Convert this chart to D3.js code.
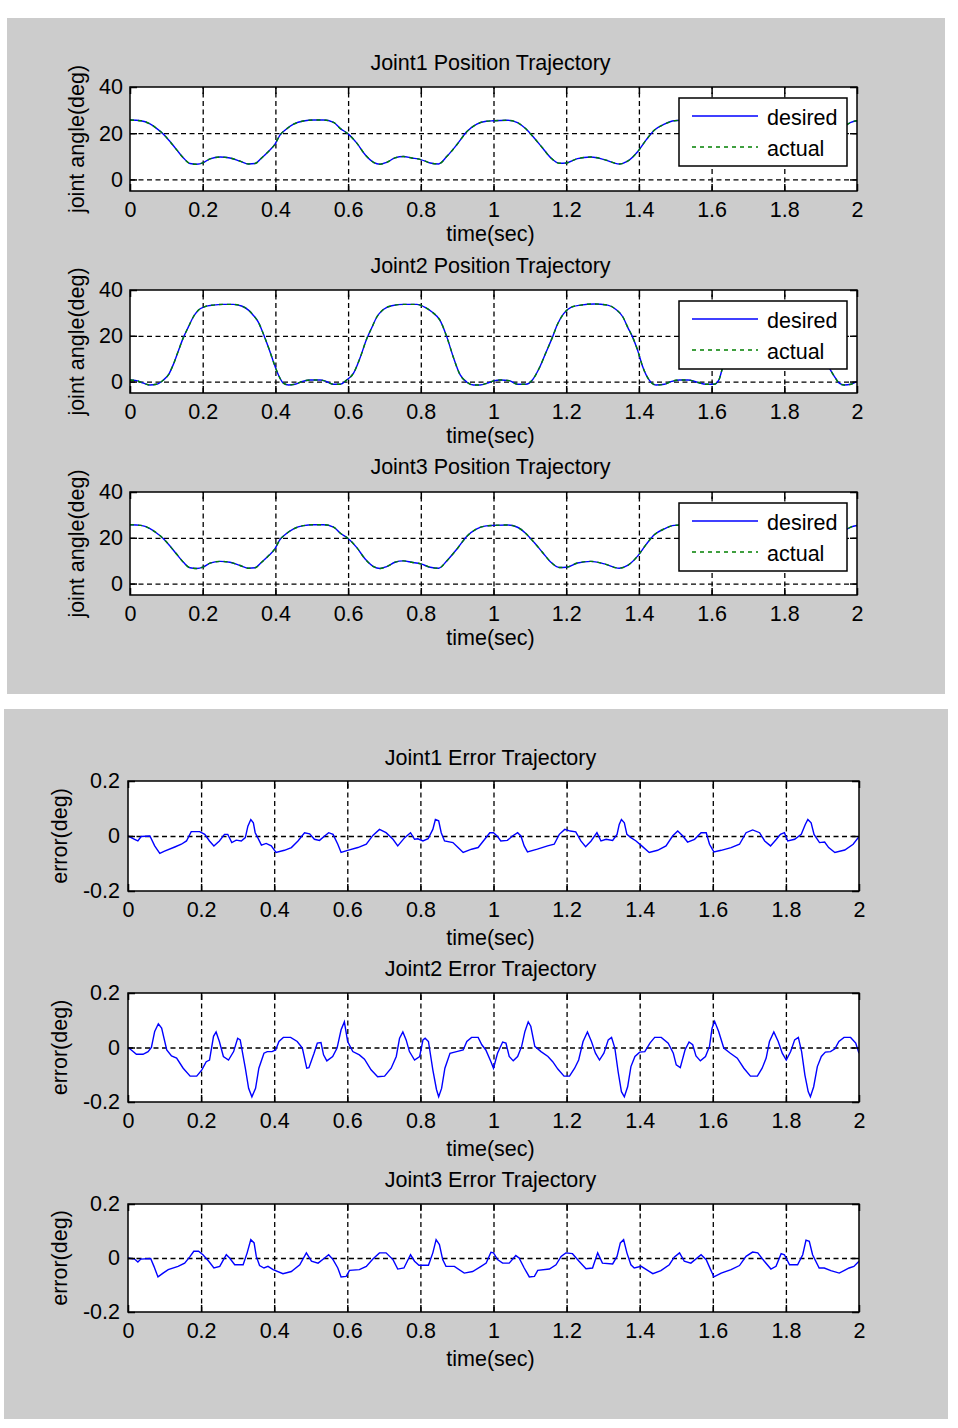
<!DOCTYPE html>
<html><head><meta charset="utf-8">
<script src="https://cdn.jsdelivr.net/npm/d3@7"></script>
<style>
body{margin:0;background:#fff}
svg{display:block}
text{font-family:"Liberation Sans",Arial,sans-serif;fill:#000}
</style></head>
<body>
<script>
// ---------------- DATA ----------------
const xTicks = [0,0.2,0.4,0.6,0.8,1,1.2,1.4,1.6,1.8,2];
const xTickLabels = ['0','0.2','0.4','0.6','0.8','1','1.2','1.4','1.6','1.8','2'];
const posYTicks = [0,20,40];
const posYTickLabels = ['0','20','40'];
const errYTicks = [-0.2,0,0.2];
const errYTickLabels = ['-0.2','0','0.2'];
const legendLabels = ['desired','actual'];

// [time(sec), angle(deg)]
const joint1Desired = [[0,25.7],[0.03,25.4],[0.055,24],[0.073,22.1],[0.092,19.6],[0.11,16.4],[0.128,12.9],[0.147,9.3],[0.165,6.9],[0.183,6.6],[0.202,7.3],[0.22,8.9],[0.248,9.7],[0.275,9.3],[0.303,7.9],[0.326,6.7],[0.344,6.9],[0.362,9.3],[0.381,12.1],[0.399,15.3],[0.413,19.3],[0.427,21.4],[0.45,23.9],[0.477,25.3],[0.505,25.7],[0.532,25.7],[0.56,24.7],[0.578,22.1],[0.601,19.6],[0.624,15.7],[0.647,10.7],[0.67,7.4],[0.688,6.6],[0.706,7.4],[0.729,9.3],[0.752,9.9],[0.775,9.3],[0.8,8.6],[0.826,7.1],[0.849,6.7],[0.872,10],[0.899,15],[0.927,20.7],[0.954,23.9],[0.98,25.2],[1.0,25.4],[1.039,25.6],[1.066,24.6],[1.089,21.9],[1.112,17.9],[1.135,13.6],[1.158,9.3],[1.181,7],[1.2,7.1],[1.231,9],[1.268,9.7],[1.305,8.6],[1.346,6.7],[1.369,7.9],[1.397,12.1],[1.42,17.1],[1.443,21.4],[1.47,23.9],[1.497,25.4],[1.53,25.7],[1.56,25.0],[1.59,22.5],[1.62,18.5],[1.65,13.0],[1.68,8.0],[1.7,6.7],[1.73,7.5],[1.76,9.7],[1.8,9.2],[1.83,7.5],[1.86,6.8],[1.88,8.5],[1.91,14.0],[1.94,20.0],[1.97,23.5],[1.983,24.7],[2.0,25.4]];
const joint1Actual = joint1Desired; // tracking error is ~0.05 deg, indistinguishable here

const joint2Desired = [[0,0.7],[0.018,0.4],[0.037,-0.7],[0.055,-1.5],[0.073,-1.2],[0.092,0.7],[0.106,3],[0.119,7.4],[0.133,13.4],[0.147,19.3],[0.161,24],[0.174,28.2],[0.188,31.2],[0.206,32.7],[0.229,33.4],[0.257,33.7],[0.284,33.7],[0.307,33],[0.326,31.2],[0.339,29],[0.353,26],[0.367,20.8],[0.381,14.9],[0.394,8.9],[0.408,3],[0.422,-0.7],[0.436,-1.5],[0.454,-1.2],[0.472,0],[0.495,0.7],[0.523,0.7],[0.541,0],[0.56,-1.2],[0.578,-1.2],[0.596,0.7],[0.615,3.7],[0.633,10.4],[0.651,18.6],[0.665,23.5],[0.679,28.2],[0.697,31.5],[0.72,33.1],[0.752,33.7],[0.789,33.7],[0.812,32.4],[0.83,30.5],[0.853,26.7],[0.872,19.3],[0.89,10.4],[0.908,3],[0.927,-0.3],[0.945,-1.5],[0.963,-1.5],[0.983,-0.7],[1.0,0.3],[1.02,0.7],[1.043,0.4],[1.066,-1.2],[1.089,-1.2],[1.107,0.7],[1.126,5.9],[1.144,12.6],[1.162,19.3],[1.176,25],[1.193,29.7],[1.213,32.4],[1.24,33.4],[1.277,33.9],[1.314,33.4],[1.337,31.5],[1.356,28.2],[1.369,23.8],[1.383,19.3],[1.397,13.4],[1.41,6.7],[1.428,0.7],[1.447,-1.5],[1.47,-1.2],[1.488,0],[1.511,0.7],[1.535,0.7],[1.56,-0.3],[1.585,-1.2],[1.607,-1.2],[1.62,0.7],[1.63,5.9],[1.645,12],[1.66,18],[1.675,24],[1.69,29],[1.71,32.3],[1.74,33.4],[1.78,33.8],[1.82,33.3],[1.845,31],[1.865,27],[1.885,21],[1.9,14],[1.912,9.5],[1.924,5.9],[1.938,2.2],[1.951,-0.7],[1.965,-1.5],[1.983,-1.2],[2.0,0]];
const joint2Actual = joint2Desired;

const joint3Desired = [[0,25.7],[0.03,25.4],[0.055,24],[0.073,22.1],[0.092,19.6],[0.11,16.4],[0.128,12.9],[0.147,9.3],[0.165,6.9],[0.183,6.6],[0.202,7.3],[0.22,8.9],[0.248,9.7],[0.275,9.3],[0.303,7.9],[0.326,6.7],[0.344,6.9],[0.362,9.3],[0.381,12.1],[0.399,15.3],[0.413,19.3],[0.427,21.4],[0.45,23.9],[0.477,25.3],[0.505,25.7],[0.532,25.7],[0.56,24.7],[0.578,22.1],[0.601,19.6],[0.624,15.7],[0.647,10.7],[0.67,7.4],[0.688,6.6],[0.706,7.4],[0.729,9.3],[0.752,9.9],[0.775,9.3],[0.8,8.6],[0.826,7.1],[0.849,6.7],[0.872,10],[0.899,15],[0.927,20.7],[0.954,23.9],[0.98,25.2],[1.0,25.4],[1.039,25.6],[1.066,24.6],[1.089,21.9],[1.112,17.9],[1.135,13.6],[1.158,9.3],[1.181,7],[1.2,7.1],[1.231,9],[1.268,9.7],[1.305,8.6],[1.346,6.7],[1.369,7.9],[1.397,12.1],[1.42,17.1],[1.443,21.4],[1.47,23.9],[1.497,25.4],[1.53,25.7],[1.56,25.0],[1.59,22.5],[1.62,18.5],[1.65,13.0],[1.68,8.0],[1.7,6.7],[1.73,7.5],[1.76,9.7],[1.8,9.2],[1.83,7.5],[1.86,6.8],[1.88,8.5],[1.91,14.0],[1.94,20.0],[1.97,23.5],[1.983,24.7],[2.0,25.4]];
const joint3Actual = joint3Desired;

// [time(sec), error(deg)]
const joint1Error = [[0,0],[0.018,-0.012],[0.027,-0.018],[0.036,-0.002],[0.06,0],[0.073,-0.036],[0.087,-0.063],[0.1,-0.055],[0.128,-0.04],[0.146,-0.03],[0.16,-0.018],[0.173,0.016],[0.196,0.016],[0.21,0.006],[0.223,-0.018],[0.235,-0.036],[0.25,-0.018],[0.264,0.006],[0.273,0.006],[0.284,-0.024],[0.296,-0.015],[0.31,-0.018],[0.321,-0.006],[0.328,0.036],[0.336,0.06],[0.343,0.048],[0.348,0.012],[0.355,-0.006],[0.365,-0.033],[0.378,-0.027],[0.392,-0.036],[0.405,-0.06],[0.428,-0.052],[0.447,-0.042],[0.465,-0.018],[0.483,0.012],[0.497,0.008],[0.51,-0.012],[0.524,-0.016],[0.538,0],[0.549,0.012],[0.561,0.006],[0.574,-0.03],[0.583,-0.06],[0.601,-0.052],[0.629,-0.042],[0.652,-0.03],[0.67,0.002],[0.688,0.024],[0.706,0.012],[0.725,-0.012],[0.738,-0.036],[0.757,-0.006],[0.773,0.012],[0.784,-0.012],[0.793,-0.01],[0.807,-0.018],[0.821,-0.01],[0.834,0.024],[0.841,0.06],[0.85,0.055],[0.857,0.012],[0.866,-0.018],[0.889,-0.024],[0.903,-0.042],[0.917,-0.06],[0.94,-0.048],[0.958,-0.042],[0.976,-0.012],[0.99,0.012],[1.0,0.012],[1.011,-0.002],[1.02,-0.018],[1.038,-0.016],[1.052,0],[1.066,0.012],[1.075,0],[1.084,-0.036],[1.093,-0.058],[1.12,-0.048],[1.148,-0.036],[1.166,-0.03],[1.18,0.006],[1.195,0.024],[1.21,0.018],[1.225,0.015],[1.239,-0.018],[1.252,-0.039],[1.267,-0.018],[1.283,0.012],[1.294,-0.018],[1.308,-0.012],[1.326,-0.016],[1.338,0.006],[1.344,0.042],[1.35,0.06],[1.358,0.048],[1.365,0.006],[1.376,-0.006],[1.39,-0.018],[1.404,-0.034],[1.426,-0.06],[1.449,-0.052],[1.472,-0.036],[1.49,0],[1.504,0.018],[1.518,0],[1.531,-0.022],[1.55,-0.012],[1.568,0.012],[1.582,0.012],[1.591,-0.03],[1.603,-0.058],[1.623,-0.052],[1.65,-0.042],[1.673,-0.03],[1.691,0.012],[1.709,0.022],[1.728,0.012],[1.742,-0.018],[1.758,-0.036],[1.774,-0.012],[1.785,0.006],[1.796,0.012],[1.805,-0.018],[1.824,-0.012],[1.842,0.006],[1.853,0.042],[1.86,0.06],[1.869,0.048],[1.877,0.006],[1.892,-0.024],[1.906,-0.022],[1.917,-0.042],[1.934,-0.06],[1.961,-0.051],[1.984,-0.03],[2.0,-0.002]];

const joint2Error = [[0,0],[0.009,-0.009],[0.023,-0.025],[0.041,-0.025],[0.055,-0.015],[0.064,0],[0.073,0.059],[0.083,0.087],[0.092,0.071],[0.106,-0.009],[0.119,-0.031],[0.133,-0.039],[0.151,-0.076],[0.17,-0.105],[0.188,-0.105],[0.202,-0.082],[0.214,-0.052],[0.223,-0.046],[0.234,0.041],[0.241,0.057],[0.25,0.022],[0.261,-0.033],[0.275,-0.046],[0.289,-0.015],[0.3,0.034],[0.307,0.028],[0.321,-0.076],[0.33,-0.15],[0.339,-0.181],[0.349,-0.15],[0.358,-0.076],[0.372,-0.021],[0.381,-0.015],[0.394,-0.015],[0.404,-0.009],[0.413,0.022],[0.425,0.037],[0.445,0.037],[0.463,0.022],[0.477,-0.002],[0.489,-0.076],[0.495,-0.074],[0.509,-0.021],[0.518,0.016],[0.528,0.018],[0.535,-0.027],[0.544,-0.049],[0.56,-0.033],[0.572,-0.002],[0.583,0.065],[0.592,0.094],[0.601,0.022],[0.615,-0.015],[0.633,-0.027],[0.647,-0.043],[0.665,-0.082],[0.683,-0.107],[0.702,-0.105],[0.72,-0.076],[0.734,-0.033],[0.743,0.034],[0.752,0.057],[0.761,0.028],[0.77,-0.015],[0.784,-0.046],[0.798,-0.033],[0.807,0.028],[0.813,0.034],[0.822,0.022],[0.834,-0.082],[0.844,-0.154],[0.85,-0.181],[0.858,-0.15],[0.867,-0.076],[0.881,-0.021],[0.899,-0.015],[0.917,-0.009],[0.927,0.022],[0.94,0.037],[0.958,0.037],[0.968,0.01],[0.979,-0.009],[0.993,-0.052],[1.0,-0.076],[1.011,-0.021],[1.025,0.02],[1.034,0.016],[1.043,-0.033],[1.054,-0.049],[1.066,-0.033],[1.077,0.004],[1.086,0.059],[1.095,0.094],[1.102,0.078],[1.113,0.004],[1.13,-0.015],[1.149,-0.033],[1.162,-0.052],[1.176,-0.079],[1.193,-0.105],[1.208,-0.105],[1.222,-0.076],[1.233,-0.046],[1.245,0.022],[1.257,0.057],[1.268,0.022],[1.279,-0.021],[1.29,-0.046],[1.302,-0.021],[1.314,0.028],[1.323,0.037],[1.332,-0.002],[1.341,-0.089],[1.35,-0.162],[1.358,-0.181],[1.367,-0.144],[1.376,-0.07],[1.387,-0.033],[1.4,-0.017],[1.414,-0.015],[1.428,0.016],[1.441,0.037],[1.459,0.037],[1.478,0.016],[1.492,-0.021],[1.5,-0.064],[1.511,-0.074],[1.524,-0.009],[1.535,0.02],[1.545,0.01],[1.554,-0.031],[1.566,-0.049],[1.58,-0.033],[1.591,0.004],[1.598,0.071],[1.605,0.096],[1.616,0.059],[1.63,-0.002],[1.648,-0.021],[1.667,-0.039],[1.685,-0.076],[1.703,-0.105],[1.722,-0.105],[1.735,-0.076],[1.746,-0.039],[1.755,0.022],[1.767,0.057],[1.779,0.022],[1.79,-0.021],[1.801,-0.046],[1.813,-0.015],[1.824,0.028],[1.834,0.037],[1.843,-0.015],[1.852,-0.101],[1.861,-0.162],[1.867,-0.181],[1.876,-0.144],[1.886,-0.07],[1.897,-0.033],[1.908,-0.017],[1.922,-0.015],[1.934,-0.005],[1.945,0.022],[1.959,0.037],[1.977,0.037],[1.991,0.016],[2.0,-0.021]];

const joint3Error = [[0,0],[0.018,-0.004],[0.027,-0.015],[0.035,-0.004],[0.062,-0.002],[0.071,-0.031],[0.082,-0.07],[0.096,-0.056],[0.11,-0.043],[0.137,-0.031],[0.155,-0.019],[0.169,0.004],[0.18,0.025],[0.193,0.025],[0.205,0.012],[0.221,-0.012],[0.235,-0.037],[0.251,-0.031],[0.269,0.012],[0.278,0],[0.292,-0.025],[0.315,-0.025],[0.326,0.019],[0.336,0.068],[0.345,0.056],[0.351,0.006],[0.36,-0.028],[0.372,-0.037],[0.383,-0.031],[0.397,-0.043],[0.424,-0.058],[0.447,-0.05],[0.47,-0.025],[0.488,0.019],[0.502,-0.012],[0.52,-0.019],[0.538,0],[0.549,0.012],[0.561,-0.006],[0.574,-0.037],[0.583,-0.07],[0.597,-0.068],[0.606,-0.046],[0.633,-0.043],[0.652,-0.031],[0.67,-0.004],[0.688,0.019],[0.706,0.019],[0.725,-0.006],[0.738,-0.041],[0.755,-0.037],[0.773,0.012],[0.784,-0.012],[0.796,-0.027],[0.822,-0.027],[0.834,0.019],[0.843,0.068],[0.852,0.05],[0.861,-0.006],[0.87,-0.031],[0.893,-0.031],[0.92,-0.056],[0.943,-0.05],[0.966,-0.031],[0.98,-0.019],[0.993,0.021],[1.0,0.019],[1.011,-0.006],[1.025,-0.019],[1.043,-0.019],[1.061,0.009],[1.07,0],[1.084,-0.037],[1.098,-0.07],[1.112,-0.068],[1.121,-0.046],[1.153,-0.041],[1.171,-0.025],[1.185,0.006],[1.198,0.019],[1.216,0.016],[1.234,-0.012],[1.253,-0.04],[1.271,-0.037],[1.285,0.019],[1.298,-0.019],[1.326,-0.022],[1.338,0.006],[1.347,0.056],[1.356,0.068],[1.365,0.019],[1.376,-0.025],[1.385,-0.037],[1.404,-0.031],[1.436,-0.058],[1.458,-0.047],[1.481,-0.025],[1.495,0.004],[1.509,0.019],[1.522,-0.012],[1.54,-0.019],[1.568,0.012],[1.582,-0.006],[1.594,-0.043],[1.603,-0.07],[1.623,-0.056],[1.65,-0.043],[1.673,-0.028],[1.691,0.006],[1.709,0.022],[1.723,0.019],[1.741,-0.012],[1.759,-0.041],[1.773,-0.031],[1.787,0.016],[1.796,0.012],[1.81,-0.025],[1.832,-0.025],[1.846,0.012],[1.855,0.066],[1.864,0.062],[1.873,0.012],[1.891,-0.037],[1.905,-0.037],[1.923,-0.047],[1.946,-0.056],[1.973,-0.037],[1.986,-0.031],[2.0,-0.012]];

// ---------------- LAYOUT ----------------
const FS = 21.5;
const svg = d3.select('body').append('svg').attr('width',958).attr('height',1428);
svg.append('rect').attr('x',7).attr('y',18).attr('width',938).attr('height',676).attr('fill','#cccccc');
svg.append('rect').attr('x',4).attr('y',709).attr('width',944).attr('height',710).attr('fill','#cccccc');

const posPlots = [
  {title:'Joint1 Position Trajectory', desired:joint1Desired, actual:joint1Actual, top:87, bottom:191, titleY:70, xlabelY:241},
  {title:'Joint2 Position Trajectory', desired:joint2Desired, actual:joint2Actual, top:290, bottom:393, titleY:273, xlabelY:443},
  {title:'Joint3 Position Trajectory', desired:joint3Desired, actual:joint3Actual, top:492, bottom:595, titleY:474, xlabelY:645}
];
const errPlots = [
  {title:'Joint1 Error Trajectory', err:joint1Error, top:781, bottom:891, titleY:765, xlabelY:945},
  {title:'Joint2 Error Trajectory', err:joint2Error, top:993, bottom:1102, titleY:976, xlabelY:1156},
  {title:'Joint3 Error Trajectory', err:joint3Error, top:1204, bottom:1312, titleY:1187, xlabelY:1366}
];

let clipId = 0;
function drawAxes(cfg){
  const x = d3.scaleLinear().domain([0,2]).range([cfg.left,cfg.right]);
  const y = d3.scaleLinear().domain(cfg.yDomain).range([cfg.bottom,cfg.top]);
  const h = cfg.bottom-cfg.top, w = cfg.right-cfg.left;
  const g = svg.append('g');
  g.append('rect').attr('x',cfg.left).attr('y',cfg.top).attr('width',w).attr('height',h).attr('fill','#fff');

  // grid
  const gx = g.append('g').attr('transform',`translate(0,${cfg.bottom})`)
    .call(d3.axisBottom(x).tickValues(xTicks.filter(t=>t>0&&t<2)).tickSize(-h).tickFormat(''));
  const gy = g.append('g').attr('transform',`translate(${cfg.left},0)`)
    .call(d3.axisLeft(y).tickValues(cfg.yTicks.filter(t=>t>cfg.yDomain[0]&&t<cfg.yDomain[1])).tickSize(-w).tickFormat(''));
  [gx,gy].forEach(s=>{
    s.select('.domain').remove();
    s.selectAll('line').attr('stroke','#000').attr('stroke-width',1.3).attr('stroke-dasharray','5,3.5');
  });

  const id = 'clip'+(clipId++);
  g.append('clipPath').attr('id',id).append('rect').attr('x',cfg.left).attr('y',cfg.top).attr('width',w).attr('height',h);
  const data = g.append('g').attr('clip-path',`url(#${id})`);

  // ticks and labels
  const tickLen = 7;
  const xb = g.append('g').attr('transform',`translate(0,${cfg.bottom})`)
    .call(d3.axisBottom(x).tickValues(xTicks).tickFormat((d,i)=>xTickLabels[i]).tickSizeInner(-tickLen).tickSizeOuter(0).tickPadding(11));
  const xt = g.append('g').attr('transform',`translate(0,${cfg.top})`)
    .call(d3.axisTop(x).tickValues(xTicks).tickFormat('').tickSizeInner(-tickLen).tickSizeOuter(0));
  const yl = g.append('g').attr('transform',`translate(${cfg.left},0)`)
    .call(d3.axisLeft(y).tickValues(cfg.yTicks).tickFormat((d,i)=>cfg.yLabels[i]).tickSizeInner(-tickLen).tickSizeOuter(0).tickPadding(cfg.yPad));
  const yr = g.append('g').attr('transform',`translate(${cfg.right},0)`)
    .call(d3.axisRight(y).tickValues(cfg.yTicks).tickFormat('').tickSizeInner(-tickLen).tickSizeOuter(0));
  [xb,xt,yl,yr].forEach(s=>{
    s.select('.domain').remove();
    s.selectAll('line').attr('stroke','#000').attr('stroke-width',1.5);
    s.selectAll('text').attr('font-size',FS).attr('fill','#000').attr('font-family','"Liberation Sans",Arial,sans-serif');
  });

  // box
  const box = g.append('rect').attr('x',cfg.left).attr('y',cfg.top).attr('width',w).attr('height',h)
    .attr('fill','none').attr('stroke','#000').attr('stroke-width',1.5);

  // title and labels
  const cx = (cfg.left+cfg.right)/2 - 3;
  g.append('text').attr('x',cx).attr('y',cfg.titleY).attr('text-anchor','middle').attr('font-size',FS).text(cfg.title);
  g.append('text').attr('x',cx).attr('y',cfg.xlabelY).attr('text-anchor','middle').attr('font-size',FS).text('time(sec)');
  g.append('text').attr('transform',`translate(${cfg.ylabelX},${(cfg.top+cfg.bottom)/2}) rotate(-90)`)
    .attr('text-anchor','middle').attr('font-size',FS).text(cfg.ylabel);

  return {x,y,g,data,box};
}

// position plots
posPlots.forEach(p=>{
  const cfg = Object.assign({left:130,right:857,yDomain:[-5,40],yTicks:posYTicks,yLabels:posYTickLabels,yPad:7,ylabelX:84,ylabel:'joint angle(deg)'},p);
  const {x,y,g,data,box} = drawAxes(cfg);
  const line = d3.line().x(d=>x(d[0])).y(d=>y(d[1])).curve(d3.curveMonotoneX);
  data.append('path').datum(p.desired).attr('d',line).attr('fill','none').attr('stroke','#0000ff').attr('stroke-width',1.4);
  data.append('path').datum(p.actual).attr('d',line).attr('fill','none').attr('stroke','#008000').attr('stroke-width',1.4).attr('stroke-dasharray','4,4');
  // legend
  const lx = 679, ly = p.top+11;
  const lg = g.append('g');
  lg.append('rect').attr('x',lx).attr('y',ly).attr('width',168).attr('height',68).attr('fill','#fff').attr('stroke','#000').attr('stroke-width',1.5);
  const rows = [{c:'#0000ff',dash:null,dy:18},{c:'#008000',dash:'4,4',dy:49}];
  rows.forEach((r,i)=>{
    const ln = lg.append('line').attr('x1',lx+13).attr('x2',lx+79).attr('y1',ly+r.dy).attr('y2',ly+r.dy).attr('stroke',r.c).attr('stroke-width',1.5);
    if(r.dash) ln.attr('stroke-dasharray',r.dash);
    lg.append('text').attr('x',lx+88).attr('y',ly+r.dy+8.5).attr('font-size',FS).text(legendLabels[i]);
  });
  box.raise();
});

// error plots
errPlots.forEach(p=>{
  const cfg = Object.assign({left:128,right:859,yDomain:[-0.2,0.2],yTicks:errYTicks,yLabels:errYTickLabels,yPad:8,ylabelX:67,ylabel:'error(deg)'},p);
  const {x,y,data} = drawAxes(cfg);
  const line = d3.line().x(d=>x(d[0])).y(d=>y(d[1]));
  data.append('path').datum(p.err).attr('d',line).attr('fill','none').attr('stroke','#0000ff').attr('stroke-width',1.4);
});
</script>
</body></html>
